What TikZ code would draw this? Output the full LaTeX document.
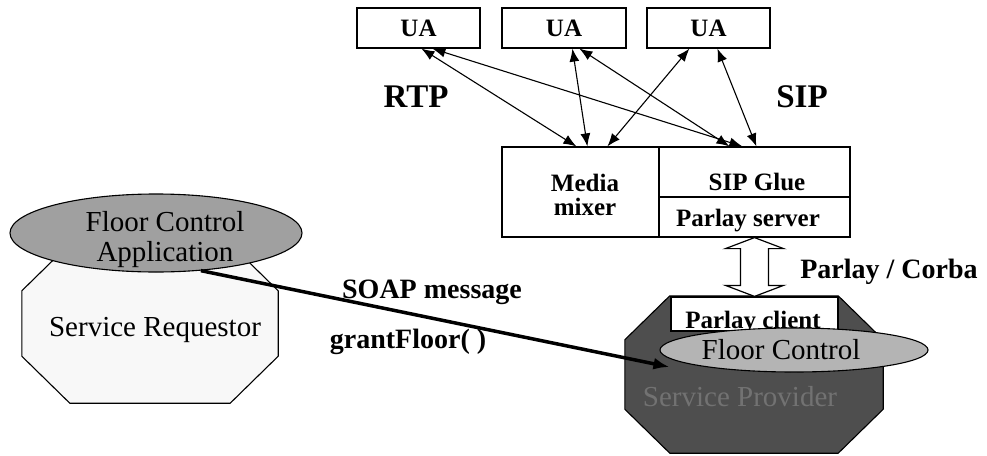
\documentclass[tikz,border=0pt]{standalone}
\usepackage{fontspec}
\setmainfont{Liberation Serif}
\usetikzlibrary{shapes.geometric,arrows.meta,calc}
\definecolor{reqfill}{HTML}{F8F8F8}
\definecolor{appfill}{HTML}{A0A0A0}
\definecolor{provfill}{HTML}{4E4E4E}
\definecolor{fcfill}{HTML}{B4B4B4}
\definecolor{provtext}{HTML}{727272}
\begin{document}
\begin{tikzpicture}[x=1pt,y=-1pt,
  boxnode/.style={draw, line width=1.2pt, fill=white, inner sep=0pt},
  bigbold/.style={font=\bfseries\fontsize{33}{36}\selectfont},
  boxbold/.style={font=\bfseries\fontsize{25}{27}\selectfont},
  lblbold/.style={font=\bfseries\fontsize{28}{30}\selectfont},
  plain/.style={font=\fontsize{29}{32}\selectfont},
  uaarrow/.style={line width=1.1pt, {Latex[length=13pt,width=10pt]}-{Latex[length=13pt,width=10pt]}},
  octline/.style={line width=1.1pt},
]
\useasboundingbox (0,0) rectangle (987,455);

% UA boxes
\node[boxnode, minimum width=123, minimum height=40, boxbold] (ua1) at (418.5,28) {UA};
\node[boxnode, minimum width=124, minimum height=40, boxbold] (ua2) at (564,28) {UA};
\node[boxnode, minimum width=123, minimum height=40, boxbold] (ua3) at (708.5,28) {UA};

% mixer / SIP glue / Parlay server
\node[boxnode, minimum width=157, minimum height=90] (mm) at (580.5,192) {};
\node[boxnode, minimum width=191, minimum height=50] (sg) at (754.5,172) {};
\node[boxnode, minimum width=191, minimum height=40] (ps) at (754.5,217) {};
\node[boxbold, align=center, inner sep=0pt] (mmt) at (585,195) {Media\\[-3pt]mixer};
\node[boxbold, inner sep=0pt] (sgt) at (757,182) {SIP Glue};
\node[boxbold, inner sep=0pt] (pst) at (748,221) {Parlay server};

% labels RTP / SIP
\node[bigbold, inner sep=0pt] (rtp) at (416,97) {RTP};
\node[bigbold, inner sep=0pt] (sip) at (802,97) {SIP};

% UA arrows
\draw[uaarrow] ($(ua1.south west)+(65,0)$) -- ($(mm.north west)+(75,0)$);
\draw[uaarrow] ($(ua1.south west)+(76,0)$) -- ($(sg.north west)+(84,0)$);
\draw[uaarrow] ($(ua2.south west)+(71,0)$) -- ($(mm.north west)+(86,0)$);
\draw[uaarrow] ($(ua2.south west)+(78,0)$) -- ($(sg.north west)+(71,0)$);
\draw[uaarrow] ($(ua3.south west)+(43,0)$) -- ($(mm.north west)+(106,0)$);
\draw[uaarrow] ($(ua3.south west)+(71,0)$) -- ($(sg.north west)+(98,0)$);

% Service Requestor (octagon drawn on a rectangle frame)
\node[minimum width=256, minimum height=159, inner sep=0pt] (req) at (150,323.5) {};
\draw[octline, fill=reqfill]
  ($(req.north west)+(48,0)$) -- ($(req.north east)+(-48,0)$) -- ($(req.north east)+(0,47)$)
  -- ($(req.south east)+(0,-47)$) -- ($(req.south east)+(-48,0)$) -- ($(req.south west)+(48,0)$)
  -- ($(req.south west)+(0,-47)$) -- ($(req.north west)+(0,47)$) -- cycle;
\node[plain, inner sep=0pt] (reqt) at (155,330) {Service Requestor};
\node[ellipse, draw, line width=1.1pt, fill=appfill, minimum width=292, minimum height=78, inner sep=0pt] (fca) at (156,233) {};
\node[plain, align=center, inner sep=0pt] (fcat) at (165,240) {Floor Control\\[-2pt]Application};

% Service Provider
\node[minimum width=258, minimum height=157, inner sep=0pt] (prov) at (754,374.5) {};
\draw[octline, fill=provfill]
  ($(prov.north west)+(45,0)$) -- ($(prov.north east)+(-45,0)$) -- ($(prov.north east)+(0,44)$)
  -- ($(prov.south east)+(0,-44)$) -- ($(prov.south east)+(-45,0)$) -- ($(prov.south west)+(45,0)$)
  -- ($(prov.south west)+(0,-44)$) -- ($(prov.north west)+(0,44)$) -- cycle;
\node[plain, text=provtext, inner sep=0pt] (provt) at (740,397) {Service Provider};
\node[boxnode, minimum width=167, minimum height=34] (pc) at (754.5,314) {};
\node[boxbold, inner sep=0pt, anchor=base] (pct) at (753,328) {Parlay client};
\node[ellipse, draw, line width=1.1pt, fill=fcfill, minimum width=268, minimum height=44, inner sep=0pt] (fcp) at (794,350) {};
\node[plain, inner sep=0pt] (fcpt) at (781,350) {Floor Control};

% Parlay / Corba double arrow
\draw[line width=1.2pt, fill=white]
  (ps.south) -- ($(ps.south)+(29,11)$) -- ($(ps.south)+(14,11)$) -- ($(pc.north)+(14,-11)$)
  -- ($(pc.north)+(29,-11)$) -- (pc.north) -- ($(pc.north)+(-29,-11)$) -- ($(pc.north)+(-14,-11)$)
  -- ($(ps.south)+(-14,11)$) -- ($(ps.south)+(-29,11)$) -- cycle;
\node[lblbold, inner sep=0pt] (pcorba) at (889,272) {Parlay / Corba};

% SOAP arrow
\coordinate (soapEnd) at ($(fcp.west)+(10,17)$);
\draw[line width=3.5pt, -{Latex[length=16pt,width=12pt]}] (fca.-40) -- (soapEnd);
\node[lblbold, inner sep=0pt] (soap) at (432,292) {SOAP message};
\node[lblbold, inner sep=0pt] (grant) at (408,342) {grantFloor( )};
\end{tikzpicture}
\end{document}
